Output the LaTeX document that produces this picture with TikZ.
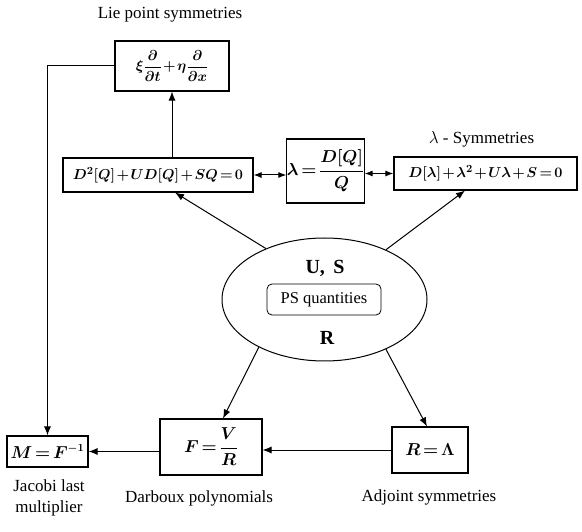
\documentclass[tikz,border=0pt]{standalone}
\usepackage{fontspec}
\setmainfont{Liberation Serif}
\usetikzlibrary{positioning, arrows.meta, shapes.geometric}

\begin{document}
\begin{tikzpicture}[x=1pt, y=-1pt,
    box/.style={draw, line width=1.1pt, inner sep=0pt, font=\fontsize{16}{19}\selectfont\boldmath,
        execute at begin node={\medmuskip=1.5mu\thickmuskip=2.5mu}},
    small/.style={font=\fontsize{15.5}{18}\selectfont\boldmath},
    lbl/.style={font=\fontsize{17}{20}\selectfont, align=center},
    conn/.style={line width=1pt, -{Latex[length=9pt,width=7pt]}},
    both/.style={line width=1pt, {Latex[length=8pt,width=6pt]}-{Latex[length=8pt,width=6pt]}}]

    \useasboundingbox (0,0) rectangle (582,532);

    \node[box, small, minimum width=114pt, minimum height=50pt] (lie) at (172,66) {$\displaystyle\xi\frac{\partial}{\partial t}+\eta\frac{\partial}{\partial x}$};
    \node[box, small, minimum width=190pt, minimum height=34pt] (dq) at (158,175) {$D^2[Q]+UD[Q]+SQ=0$};
    \node[box, minimum width=77pt, minimum height=64pt] (lam) at (325.5,171) {$\displaystyle\lambda=\frac{D[Q]}{Q}$};
    \node[box, small, minimum width=183pt, minimum height=33pt] (dlam) at (485.5,173.5) {$D[\lambda]+\lambda^2+U\lambda+S=0$};

    \node[draw, ellipse, line width=1pt, minimum width=205pt, minimum height=123pt] (ps) at (324.5,299.5) {};
    \node[draw, rounded corners=5pt, line width=0.8pt, minimum width=114pt, minimum height=31pt, font=\fontsize{16.5}{19}\selectfont] (psq) at (324,299.5) {PS quantities};
    \node[font=\fontsize{20}{23}\selectfont\bfseries] (us) at (325,268) {U,\, S};
    \node[font=\fontsize{20}{23}\selectfont\bfseries] (r) at (327,338) {R};

    \node[box, minimum width=81pt, minimum height=31pt] (jlm) at (47.5,451.5) {$M=F^{-1}$};
    \node[box, minimum width=102pt, minimum height=56pt] (dbx) at (211,447) {$\displaystyle F=\frac{V}{R}$};
    \node[box, minimum width=76pt, minimum height=46pt] (adj) at (430,450) {$R=\Lambda$};

    \node[lbl] (liet) at (170,15) {Lie point symmetries};
    \node[lbl] (lamt) at (481.5,139) {$\lambda$ - Symmetries};
    \node[lbl, font=\fontsize{17}{21}\selectfont] (jlmt) at (49,497.5) {Jacobi last\\multiplier};
    \node[lbl] (dbxt) at (199,498) {Darboux polynomials};
    \node[lbl] (adjt) at (429,497) {Adjoint symmetries};

    \draw[conn] (ps.139) -- ([xshift=17pt]dq.south);
    \draw[conn] (ps.39) -- ([xshift=-20.5pt]dlam.south);
    \draw[conn] (ps.216) -- ([xshift=12pt]dbx.north);
    \draw[conn] (ps.321) -- ([xshift=-3pt]adj.north);
    \draw[conn] (lie.south |- dq.north) -- (lie.south);
    \draw[conn] (lie.west) -| (jlm.north);
    \draw[both] (dq.east) -- (dq.east -| lam.west);
    \draw[both] (dlam.west -| lam.east) -- (dlam.west);
    \draw[conn] (adj.west) -- (adj.west -| dbx.east);
    \draw[conn] (dbx.west |- jlm.east) -- (jlm.east);

\end{tikzpicture}
\end{document}
